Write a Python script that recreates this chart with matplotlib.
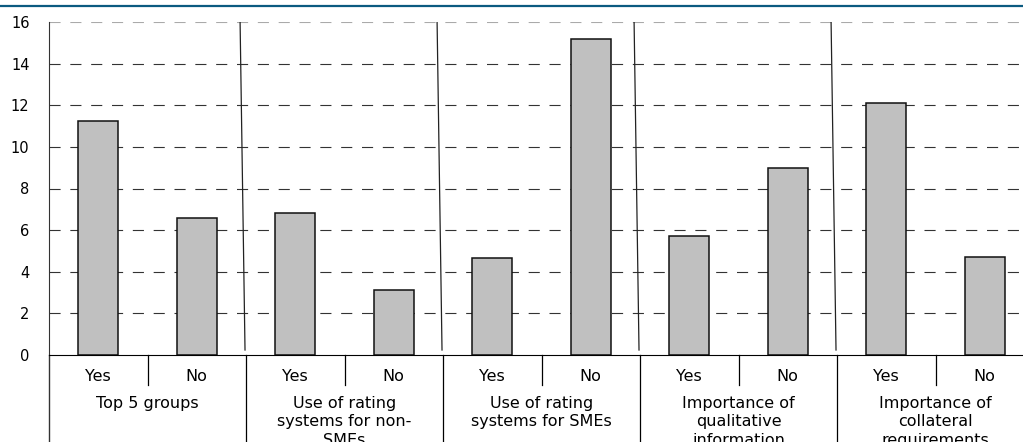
import matplotlib
matplotlib.use("Agg")
import matplotlib.pyplot as plt
import matplotlib.transforms as mtransforms
from matplotlib.lines import Line2D
import numpy as np

# data
groups = ["Top 5 groups",
          "Use of rating\nsystems for non-\nSMEs",
          "Use of rating\nsystems for SMEs",
          "Importance of\nqualitative\ninformation",
          "Importance of\ncollateral\nrequirements"]
answers = ["Yes", "No"]
yes_vals = [11.25, 6.8, 4.65, 5.7, 12.1]
no_vals = [6.6, 3.1, 15.2, 9.0, 4.7]

plt.rcParams['font.family'] = ['DejaVu Sans']
plt.rcParams['lines.scale_dashes'] = False

vals = []
labels = []
for y, n in zip(yes_vals, no_vals):
    vals += [y, n]
    labels += answers
x = np.arange(len(vals))

W, H = 1023, 442
fig = plt.figure(figsize=(W / 100, H / 100), dpi=100)
ax = fig.add_axes([49 / W, (H - 355) / H, 985 / W, 333 / H])

ax.set_xlim(-0.5, len(vals) - 0.5)
ax.set_ylim(0, 16)
ax.set_yticks(np.arange(0, 17, 2))
ax.set_xticks([])
ax.tick_params(axis='y', length=0, pad=14, labelsize=10.5)

# dashed horizontal gridlines
for v in np.arange(2, 17, 2):
    c = '#aaaaaa' if v == 16 else '#333333'
    ax.axhline(v, color=c, lw=0.8, dashes=(8, 7), zorder=0)

ax.bar(x, vals, width=0.41, color='#c0c0c0', edgecolor='#111111', lw=1.1, zorder=2)

for s in ['top', 'right']:
    ax.spines[s].set_visible(False)
ax.spines['left'].set_color('#333333')
ax.spines['bottom'].set_color('black')

tr = mtransforms.blended_transform_factory(ax.transData, ax.transAxes)

# slanted separators inside the plot
for b in np.arange(1.5, len(vals) - 1, 2):
    ax.plot([b - 0.06, b - 0.01], [1.0, 0.015], color='#222222', lw=0.9,
            transform=tr, zorder=3)

# category axis below
ax.plot([-0.5, -0.5], [0, -0.3], color='#333333', lw=1, transform=tr, clip_on=False)
for b in np.arange(1.5, len(vals), 2):
    ax.plot([b, b], [0, -0.3], color='black', lw=0.9, transform=tr, clip_on=False)
for b in np.arange(0.5, len(vals), 2):
    ax.plot([b, b], [0, -0.09], color='black', lw=0.9, transform=tr, clip_on=False)

for xi, lab in zip(x, labels):
    ax.text(xi, -0.066, lab, transform=tr, ha='center', va='center', fontsize=11.5)
for i, g in enumerate(groups):
    ax.text(2 * i + 0.5, -0.122, g, transform=tr, ha='center', va='top',
            fontsize=11.5, linespacing=1.3)

# blue rule at the top
fig.add_artist(Line2D([0, 1], [1 - 5.5 / H] * 2, transform=fig.transFigure,
                      color='#0b5a80', lw=1.6))

fig.savefig('out.png', dpi=100)
